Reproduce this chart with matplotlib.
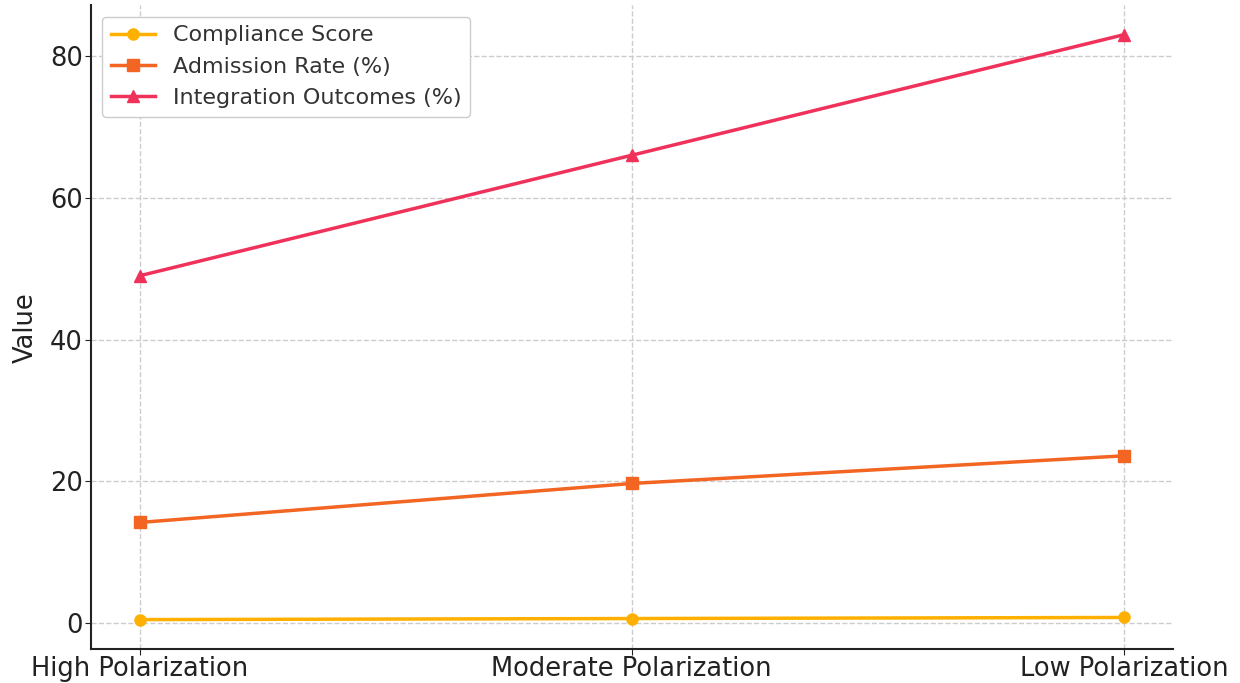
import matplotlib.pyplot as plt

categories = ["High Polarization", "Moderate Polarization", "Low Polarization"]
compliance_score = [0.5, 0.65, 0.8]
admission_rate = [14.2, 19.7, 23.6]
integration_outcomes = [49, 66, 83]

fig, ax = plt.subplots(figsize=(12.4, 6.83), dpi=100)
fig.subplots_adjust(left=0.073, right=0.946, top=0.992, bottom=0.05)

x = range(len(categories))
ax.plot(x, compliance_score, color="#FFB000", marker="o", markersize=8,
        linewidth=2.5, label="Compliance Score")
ax.plot(x, admission_rate, color="#F26522", marker="s", markersize=8,
        linewidth=2.5, label="Admission Rate (%)")
ax.plot(x, integration_outcomes, color="#F0325A", marker="^", markersize=8,
        linewidth=2.5, label="Integration Outcomes (%)")

ax.set_xticks(list(x))
ax.set_xticklabels(categories)
ax.set_ylabel("Value", fontsize=18.5, color="#222222", labelpad=8)
ax.tick_params(axis="both", labelsize=18.5, colors="#222222", length=4, pad=1.5)
ax.set_yticks([0, 20, 40, 60, 80])

ax.grid(True, linestyle="--", color="#cccccc", linewidth=1)
ax.set_axisbelow(True)
for side in ("top", "right"):
    ax.spines[side].set_visible(False)
for side in ("left", "bottom"):
    ax.spines[side].set_color("#222222")
    ax.spines[side].set_linewidth(1.5)

leg = ax.legend(loc="upper left", fontsize=16, frameon=True, framealpha=1,
                edgecolor="#cccccc", handlelength=2.0)
for t in leg.get_texts():
    t.set_color("#333333")

fig.savefig("out.png", dpi=100)
